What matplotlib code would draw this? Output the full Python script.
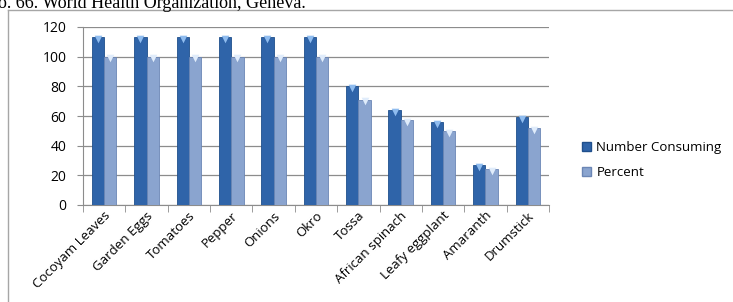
import matplotlib
matplotlib.use("Agg")
from matplotlib import pyplot as plt
from matplotlib.lines import Line2D
from matplotlib.patches import Patch
import numpy as np

categories = ['Cocoyam Leaves', 'Garden Eggs', 'Tomatoes', 'Pepper', 'Onions', 'Okro',
              'Tossa', 'African spinach', 'Leafy eggplant', 'Amaranth', 'Drumstick']
number_consuming = [113, 113, 113, 113, 113, 113, 80, 64, 56, 27, 59]
percent = [100, 100, 100, 100, 100, 100, 71, 57, 50, 24, 52]
y_ticks = [0, 20, 40, 60, 80, 100, 120]

W, H = 733, 302
fig = plt.figure(figsize=(W / 100, H / 100), dpi=100)

# frame of the embedded chart
fig.add_artist(Line2D([8 / W, 1], [1 - 10 / H, 1 - 10 / H], color='#a6a6a6', lw=1))
fig.add_artist(Line2D([8 / W, 8 / W], [0, 1 - 10 / H], color='#a6a6a6', lw=1))

# cut-off caption line from the document above
fig.text(-2 / W, 1 - 8 / H, 'o. 66. World Health Organization, Geneva.',
         family='Liberation Serif', fontsize=13, va='baseline', ha='left')

ax = fig.add_axes([83 / W, 1 - 205 / H, (549 - 83) / W, (205 - 27) / H])
x = np.arange(len(categories))
bw = 0.29
dark = '#2f64a9'
light = '#8aa4cf'
ax.bar(x - bw / 2, number_consuming, bw, color=dark, edgecolor='#1f4f8c', lw=0.6,
       label='Number Consuming', zorder=3)
ax.bar(x + bw / 2, percent, bw, color=light, edgecolor='#6b86b5', lw=0.6,
       label='Percent', zorder=3)
# light chevron caps on bar tops
ax.scatter(x - bw / 2, np.array(number_consuming) - 1.2, marker='v', s=30,
           color='#8fbcef', zorder=4, lw=0)
ax.scatter(x + bw / 2, np.array(percent) - 1.2, marker='v', s=30,
           color='#e0ecfb', zorder=4, lw=0)

ax.set_xlim(-0.5, len(categories) - 0.5)
ax.set_ylim(0, 120)
ax.set_yticks(y_ticks)
ax.yaxis.grid(True, color='#8c8c8c', lw=0.9, zorder=0)
ax.set_axisbelow(True)
for s in ['top', 'right']:
    ax.spines[s].set_visible(False)
ax.spines['left'].set_color('#8c8c8c')
ax.spines['bottom'].set_color('#8c8c8c')
ax.tick_params(axis='y', length=4, color='#8c8c8c', labelsize=10, pad=8)
ax.set_xticks(np.arange(len(categories) + 1) - 0.5, minor=True)
ax.tick_params(axis='x', which='minor', length=5, color='#8c8c8c')
ax.set_xticks(x)
ax.tick_params(axis='x', which='major', length=0, pad=3)
ax.set_xticklabels(categories, rotation=45, ha='right', rotation_mode='anchor',
                   fontsize=9.5, family='Open Sans')
for t in ax.get_yticklabels():
    t.set_family('Open Sans')

handles = [Patch(facecolor=dark, edgecolor='#1f4f8c'), Patch(facecolor=light, edgecolor='#6b86b5')]
fig.legend(handles, ['Number Consuming', 'Percent'], loc='center left',
           bbox_to_anchor=(570 / W, 1 - 160 / H), frameon=False,
           prop={'family': 'Open Sans', 'size': 9.5}, handlelength=0.7, handleheight=0.7,
           handletextpad=0.4, labelspacing=0.9)

fig.savefig('out.png', dpi=100)
